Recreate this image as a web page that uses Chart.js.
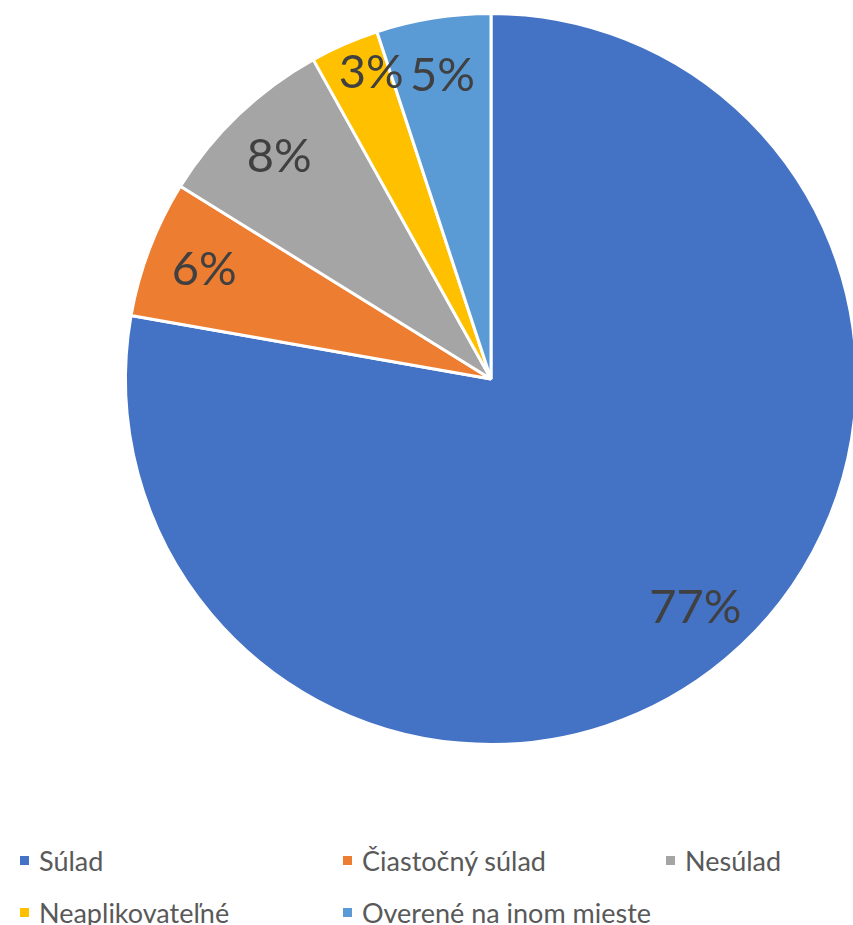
<!DOCTYPE html>
<html lang="sk">
<head>
<meta charset="utf-8">
<script src="https://cdn.jsdelivr.net/npm/chart.js@4"></script>
<style>
    body { margin: 0; width: 853px; height: 925px; overflow: hidden; background: #fff; font-family: Lato, "Open Sans", sans-serif; position: relative; }
    #wrap { position: absolute; left: 0; top: 0; }
    #legenda { position: absolute; left: 20px; top: 843px; display: grid; grid-template-columns: 323px 323px 200px; row-gap: 17px; }
    .item { display: flex; align-items: center; font-size: 27px; color: #595959; line-height: 35px; white-space: nowrap; }
    .item i { display: inline-block; width: 9px; height: 9px; margin-right: 10px; }
</style>
</head>
<body>
<div id="wrap"><canvas id="graf" width="982" height="758"></canvas></div>
<div id="legenda"></div>
<script>
const kategorie = ['Súlad', 'Čiastočný súlad', 'Nesúlad', 'Neaplikovateľné', 'Overené na inom mieste'];
const hodnoty = [77, 6, 8, 3, 5];
const farby = ['#4472C4', '#ED7D31', '#A5A5A5', '#FFC000', '#5B9BD5'];

// percentá vpísané do výsekov
const popisky = {
    id: 'popisky',
    afterDatasetsDraw(chart) {
        const ctx = chart.ctx;
        const meta = chart.getDatasetMeta(0);
        ctx.save();
        ctx.font = '47px Lato, "Open Sans", sans-serif';
        ctx.fillStyle = '#404040';
        ctx.textAlign = 'center';
        ctx.textBaseline = 'middle';
        meta.data.forEach((arc, i) => {
            const p = arc.getProps(['x', 'y', 'startAngle', 'endAngle', 'outerRadius'], true);
            const uhol = p.endAngle - p.startAngle;
            const uzky = uhol < 0.25;
            // úzky výsek: popis bližšie k okraju, veľký výsek: mierne proti smeru
            let posun = 0;
            if (uzky) posun = 0.04;
            else if (uhol > Math.PI) posun = -0.03;
            const stred = (p.startAngle + p.endAngle) / 2 + posun;
            const r = p.outerRadius * (uzky ? 0.9 : 0.84);
            ctx.fillText(hodnoty[i] + '%', p.x + Math.cos(stred) * r, p.y + Math.sin(stred) * r);
        });
        ctx.restore();
    }
};

new Chart(document.getElementById('graf').getContext('2d'), {
    type: 'pie',
    data: {
        labels: kategorie,
        datasets: [{ data: hodnoty, backgroundColor: farby, borderColor: '#fff', borderWidth: 3 }]
    },
    options: {
        responsive: false,
        animation: false,
        layout: { padding: 12 },
        plugins: { legend: { display: false }, tooltip: { enabled: false } }
    },
    plugins: [popisky]
});

document.getElementById('legenda').innerHTML = kategorie.map((k, i) =>
    `<div class="item"><i style="background:${farby[i]}"></i>${k}</div>`).join('');
</script>
</body>
</html>
